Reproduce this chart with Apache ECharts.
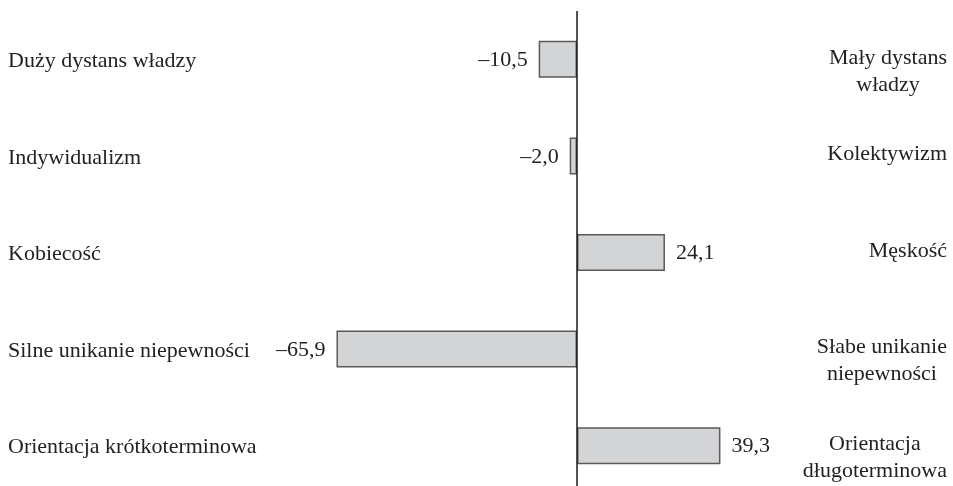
<!DOCTYPE html>
<html>
<head>
<meta charset="utf-8">
<script src="https://cdn.jsdelivr.net/npm/echarts@6/dist/echarts.min.js"></script>
<style>html,body{margin:0;padding:0;background:#fff;}#c{width:953px;height:486px;}</style>
</head>
<body>
<div id="c"></div>
<script>
const leftLabels = ['Duży dystans władzy', 'Indywidualizm', 'Kobiecość', 'Silne unikanie niepewności', 'Orientacja krótkoterminowa'];
const rightLabels = ['Mały dystans\nwładzy', 'Kolektywizm', 'Męskość', 'Słabe unikanie\nniepewności', 'Orientacja\ndługoterminowa'];
const values = [-10.5, -2.0, 24.1, -65.9, 39.3];

const FONT = '"Liberation Serif", "DejaVu Serif", serif';
const TXT = '#222';

function fmt(v) {
  return (v < 0 ? '\u2013' : '') + Math.abs(v).toFixed(1).replace('.', ',');
}

const chart = echarts.init(document.getElementById('c'));
chart.setOption({
  animation: false,
  backgroundColor: '#fff',
  grid: { left: 285, right: 157, top: 11, bottom: -8, containLabel: false, outerBoundsMode: 'none' },
  xAxis: {
    type: 'value', min: -80, max: 60,
    axisLine: { show: false }, axisTick: { show: false },
    axisLabel: { show: false }, splitLine: { show: false }
  },
  yAxis: [
    {
      type: 'category', data: leftLabels, inverse: true, position: 'left',
      axisLine: { show: false, onZero: false }, axisTick: { show: false },
      axisLabel: {
        show: true, align: 'left', margin: 277,
        fontFamily: FONT, fontSize: 22, color: TXT, lineHeight: 27,
        verticalAlign: 'top', padding: [-11.5, 0, 0, 0]
      }
    },
    {
      type: 'category', data: rightLabels, inverse: true, position: 'right',
      axisLine: { show: false, onZero: false }, axisTick: { show: false },
      axisLabel: {
        show: true, align: 'right', margin: 151,
        fontFamily: FONT, fontSize: 22, color: TXT, lineHeight: 27,
        verticalAlign: 'top', padding: [-15, 0, 0, 0],
        formatter: function (s) {
          return s.split('\n').map(function (l) { return '{c|' + l + '}'; }).join('\n');
        },
        rich: { c: { align: 'center', fontFamily: FONT, fontSize: 22, color: TXT, lineHeight: 27 } }
      }
    }
  ],
  series: [{
    type: 'bar',
    yAxisIndex: 0,
    barWidth: 37,
    data: values.map(function (v) {
      return {
        value: v,
        label: { position: v < 0 ? 'left' : 'right' }
      };
    }),
    itemStyle: { color: '#d3d4d6', borderColor: '#5a5a5a', borderWidth: 1.5 },
    label: {
      show: true, distance: 11, offset: [0, 1],
      fontFamily: FONT, fontSize: 22, color: TXT,
      formatter: function (p) { return fmt(p.value); }
    },
    markLine: {
      silent: true, symbol: 'none',
      label: { show: false },
      lineStyle: { color: '#1a1a1a', width: 1.5, type: 'solid' },
      data: [{ xAxis: 0 }]
    }
  }]
});
</script>
</body>
</html>
